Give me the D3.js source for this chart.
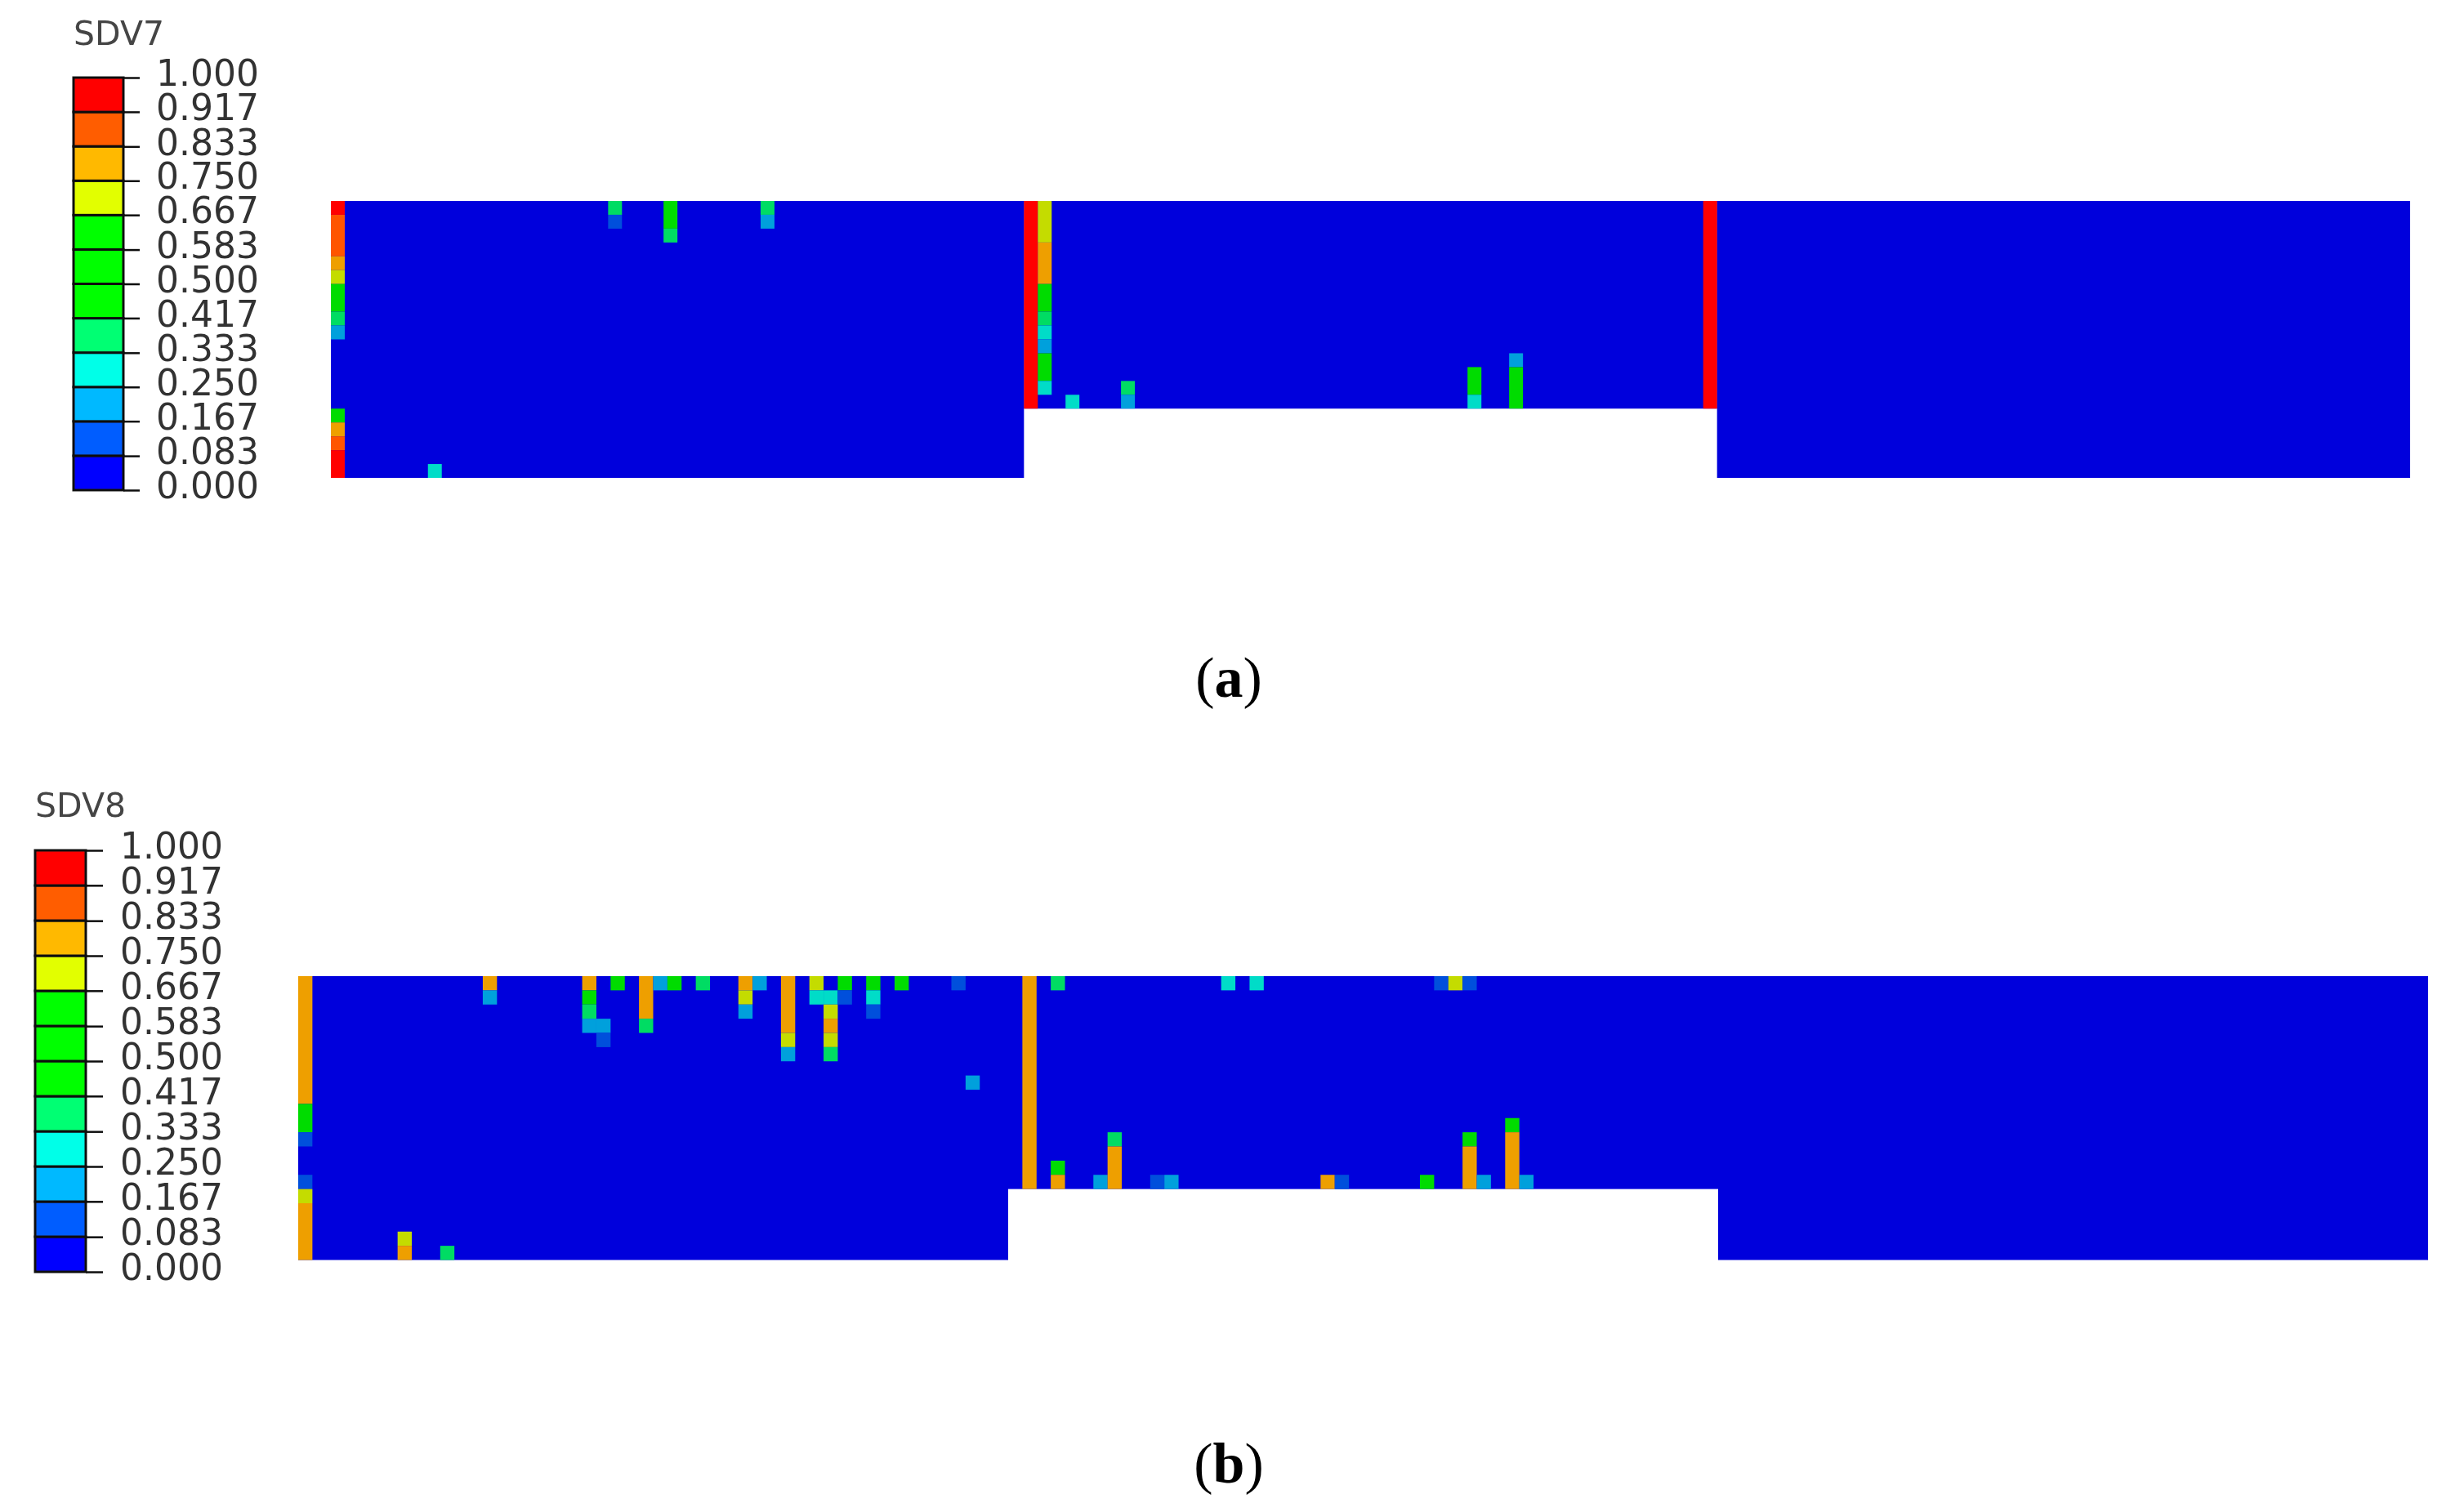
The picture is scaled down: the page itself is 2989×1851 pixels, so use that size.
<!DOCTYPE html>
<html>
<head>
<meta charset="utf-8">
<script src="https://cdn.jsdelivr.net/npm/d3@7"></script>
<style>
  body { margin: 0; background: white; }
  svg { display: block; }
</style>
</head>
<body>
<script>
// contour bands, lowest first
var legendTicks = [1.000, 0.917, 0.833, 0.750, 0.667, 0.583, 0.500, 0.417, 0.333, 0.250, 0.167, 0.083, 0.000];
var legendColors = ["#0000ff", "#005dff", "#00b9ff", "#00ffe8", "#00ff73", "#00ff00", "#00ff00", "#00ff00", "#e2ff00", "#ffb900", "#ff5d00", "#ff0000"];
var meshColors = ["#0000dc", "#0050dc", "#00a0dc", "#00dcc8", "#00dc64", "#00dc00", "#00dc00", "#00dc00", "#c4dc00", "#ee9f00", "#ff5500", "#ff0000"];

// the beam: [first column, last column + 1, rows]
var beamBlocks = [[0, 50, 20], [50, 100, 15], [100, 150, 20]];

// elements that are not band 0: [column, first row, number of rows, band]
var sdv7Cells = [
  [0, 0, 1, 11], [0, 1, 3, 10], [0, 4, 1, 9], [0, 5, 1, 8], [0, 6, 2, 6], [0, 8, 1, 4], [0, 9, 1, 2],
  [0, 15, 1, 6], [0, 16, 1, 9], [0, 17, 1, 10], [0, 18, 2, 11],
  [7, 19, 1, 3], [20, 0, 1, 4], [20, 1, 1, 1], [24, 0, 2, 6], [24, 2, 1, 4], [31, 0, 1, 4], [31, 1, 1, 2],
  [50, 0, 15, 11],
  [51, 0, 3, 8], [51, 3, 3, 9], [51, 6, 2, 6], [51, 8, 1, 4], [51, 9, 1, 3], [51, 10, 1, 2], [51, 11, 2, 6], [51, 13, 1, 3],
  [53, 14, 1, 3], [57, 13, 1, 4], [57, 14, 1, 2], [82, 12, 2, 6], [82, 14, 1, 3], [85, 11, 1, 2], [85, 12, 3, 6],
  [99, 0, 15, 11]
];

var sdv8Cells = [
  [0, 0, 9, 9], [0, 9, 2, 6], [0, 11, 1, 1], [0, 14, 1, 1], [0, 15, 1, 8], [0, 16, 4, 9],
  [7, 18, 1, 8], [7, 19, 1, 9], [10, 19, 1, 4],
  [13, 0, 1, 9], [13, 1, 1, 2],
  [20, 0, 1, 9], [20, 1, 1, 6], [20, 2, 1, 4], [20, 3, 1, 2], [21, 3, 1, 2], [21, 4, 1, 1], [22, 0, 1, 6],
  [24, 0, 3, 9], [24, 3, 1, 4], [25, 0, 1, 2], [26, 0, 1, 6], [28, 0, 1, 4],
  [31, 0, 1, 9], [31, 1, 1, 8], [31, 2, 1, 2], [32, 0, 1, 2],
  [34, 0, 4, 9], [34, 4, 1, 8], [34, 5, 1, 2],
  [36, 0, 1, 8], [36, 1, 1, 3], [37, 1, 1, 3], [37, 2, 1, 8], [37, 3, 1, 9], [37, 4, 1, 8], [37, 5, 1, 4],
  [38, 0, 1, 6], [38, 1, 1, 1], [40, 0, 1, 6], [40, 1, 1, 3], [40, 2, 1, 1], [42, 0, 1, 6],
  [46, 0, 1, 1], [47, 7, 1, 2],
  [51, 0, 15, 9], [53, 0, 1, 4], [53, 13, 1, 6], [53, 14, 1, 9],
  [56, 14, 1, 2], [57, 11, 1, 4], [57, 12, 3, 9], [60, 14, 1, 1], [61, 14, 1, 2],
  [65, 0, 1, 3], [67, 0, 1, 3], [72, 14, 1, 9], [73, 14, 1, 1], [79, 14, 1, 6],
  [80, 0, 1, 1], [81, 0, 1, 8], [82, 0, 1, 1], [82, 11, 1, 6], [82, 12, 3, 9], [83, 14, 1, 2],
  [85, 10, 1, 6], [85, 11, 4, 9], [86, 14, 1, 2]
];

var svg = d3.select("body")
            .append("svg")
            .attr("width", 2989)
            .attr("height", 1851);

// the reference is a slightly soft raster
svg.append("defs")
   .append("filter")
   .attr("id", "soft")
   .append("feGaussianBlur")
   .attr("stdDeviation", 0.7);

drawPanel({
  title: "SDV7", cells: sdv7Cells,
  meshX: [405, 2950], meshY: [246, 585],
  legendX: [90, 151], legendY: [95, 600], tickEnd: 171, labelEnd: 317, titleY: 55
});

drawPanel({
  title: "SDV8", cells: sdv8Cells,
  meshX: [365, 2972], meshY: [1195, 1542.5],
  legendX: [43, 105], legendY: [1041, 1557], tickEnd: 126, labelEnd: 273, titleY: 1000
});

caption("a", 1504, 853);
caption("b", 1504, 1815);

function drawPanel(p) {
  var g = svg.append("g")
             .attr("class", "panel-" + p.title)
             .attr("filter", "url(#soft)");

  var xScale = d3.scaleLinear().domain([0, 150]).range(p.meshX);
  var yScale = d3.scaleLinear().domain([0, 20]).range(p.meshY);

  // deep blue body of the beam
  g.append("g").selectAll("rect")
   .data(beamBlocks)
   .enter()
   .append("rect")
   .attr("x", function(d) { return xScale(d[0]); })
   .attr("y", yScale(0))
   .attr("width", function(d) { return xScale(d[1]) - xScale(d[0]); })
   .attr("height", function(d) { return yScale(d[2]) - yScale(0); })
   .style("fill", meshColors[0]);

  g.append("g").selectAll("rect")
   .data(p.cells)
   .enter()
   .append("rect")
   .attr("x", function(d) { return xScale(d[0]); })
   .attr("y", function(d) { return yScale(d[1]); })
   .attr("width", xScale(1) - xScale(0))
   .attr("height", function(d) { return yScale(d[2]) - yScale(0); })
   .style("fill", function(d) { return meshColors[d[3]]; });

  // legend
  var legendScale = d3.scaleLinear().domain([0, 12]).range([p.legendY[1], p.legendY[0]]);

  g.append("g").selectAll("rect")
   .data(legendColors)
   .enter()
   .append("rect")
   .attr("x", p.legendX[0])
   .attr("y", function(d, i) { return legendScale(i + 1); })
   .attr("width", p.legendX[1] - p.legendX[0])
   .attr("height", function(d, i) { return legendScale(i) - legendScale(i + 1); })
   .style("fill", function(d) { return d; })
   .style("stroke", "#111")
   .style("stroke-width", 3);

  var tickScale = d3.scaleLinear().domain([0, 1]).range([p.legendY[1], p.legendY[0]]);

  var axis = d3.axisRight(tickScale)
               .tickValues(legendTicks)
               .tickSize(p.tickEnd - p.legendX[1])
               .tickFormat(d3.format(".3f"));

  var axisG = g.append("g")
               .attr("transform", "translate(" + p.legendX[1] + ",0)")
               .call(axis);

  axisG.select(".domain").remove();
  axisG.selectAll("line").style("stroke", "#111").style("stroke-width", 2.5);
  axisG.selectAll("text")
       .attr("x", p.labelEnd - p.legendX[1])
       .attr("dy", "0.22em")
       .style("text-anchor", "end")
       .style("font-family", "'DejaVu Sans'")
       .style("font-size", "44px")
       .style("fill", "#333");

  g.append("text")
   .attr("x", p.legendX[0])
   .attr("y", p.titleY)
   .style("font-family", "'DejaVu Sans'")
   .style("font-size", "41px")
   .style("fill", "#444")
   .text(p.title);
}

function caption(letter, x, y) {
  var t = svg.append("text")
             .attr("x", x)
             .attr("y", y)
             .style("text-anchor", "middle")
             .style("font-family", "'Liberation Serif'")
             .style("font-size", "70px")
             .style("fill", "black");
  t.append("tspan").text("(");
  t.append("tspan").style("font-weight", "bold").text(letter);
  t.append("tspan").text(")");
}
</script>
</body>
</html>
